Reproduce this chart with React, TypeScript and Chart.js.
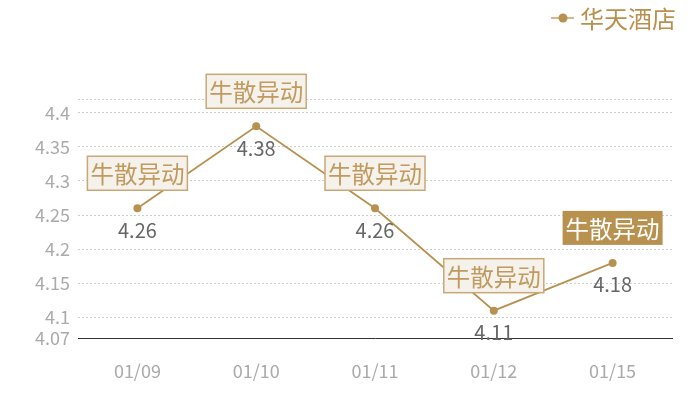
import React, { useEffect, useRef } from 'react';
import { Chart, registerables } from 'chart.js';

Chart.register(...registerables);

const dates = ['01/09', '01/10', '01/11', '01/12', '01/15'];
const prices = [4.26, 4.38, 4.26, 4.11, 4.18];
const tagTexts = ['牛散异动', '牛散异动', '牛散异动', '牛散异动', '牛散异动'];
const tagHot = [false, false, false, false, true];
const yTicks = [4.07, 4.1, 4.15, 4.2, 4.25, 4.3, 4.35, 4.4, 4.42];
const hiddenTicks = [4.42];
const seriesName = '华天酒店';

const GOLD = '#b8914f';
const FONT = '"Noto Sans CJK SC", "Noto Sans", sans-serif';

// value under each point + tag box above it
const labelPlugin = {
  id: 'pointLabels',
  afterDatasetsDraw(chart: any) {
    const ctx = chart.ctx;
    const meta = chart.getDatasetMeta(0);
    ctx.save();
    meta.data.forEach((pt: any, i: number) => {
      const x = pt.x;
      const y = pt.y;
      ctx.font = '20px ' + FONT;
      ctx.fillStyle = '#666';
      ctx.textAlign = 'center';
      ctx.textBaseline = 'middle';
      ctx.fillText(String(prices[i]), x, y + 22);

      const text = tagTexts[i];
      if (!text) return;
      ctx.font = '23.5px ' + FONT;
      const w = ctx.measureText(text).width + 6;
      const h = 34;
      const cy = y - 35;
      const left = x - w / 2;
      const top = cy - h / 2;
      if (tagHot[i]) {
        ctx.fillStyle = GOLD;
        ctx.fillRect(left, top, w, h);
        ctx.fillStyle = '#fff';
      } else {
        ctx.fillStyle = '#f5f1eb';
        ctx.fillRect(left, top, w, h);
        ctx.strokeStyle = '#c9a877';
        ctx.lineWidth = 1.5;
        ctx.strokeRect(left, top, w, h);
        ctx.fillStyle = '#c09a5e';
      }
      ctx.fillText(text, x, cy + 1);
    });
    ctx.restore();
  },
};

const legendPlugin = {
  id: 'cornerLegend',
  afterDraw(chart: any) {
    const ctx = chart.ctx;
    ctx.save();
    ctx.font = '24px ' + FONT;
    const tw = ctx.measureText(seriesName).width;
    const right = chart.width - 24;
    const tx = right - tw;
    const cy = 18;
    ctx.strokeStyle = '#d4b98c';
    ctx.lineWidth = 2;
    ctx.beginPath();
    ctx.moveTo(tx - 29, cy);
    ctx.lineTo(tx - 6, cy);
    ctx.stroke();
    ctx.fillStyle = GOLD;
    ctx.beginPath();
    ctx.arc(tx - 17, cy, 4.5, 0, Math.PI * 2);
    ctx.fill();
    ctx.textAlign = 'left';
    ctx.textBaseline = 'middle';
    ctx.fillText(seriesName, tx, cy + 1);
    ctx.restore();
  },
};

const App: React.FC = () => {
  const canvasRef = useRef<HTMLCanvasElement | null>(null);
  const chartRef = useRef<Chart | null>(null);

  useEffect(() => {
    if (!canvasRef.current) return;
    const ctx = canvasRef.current.getContext('2d');
    if (!ctx) return;
    if (chartRef.current) chartRef.current.destroy();

    chartRef.current = new Chart(ctx, {
      type: 'line',
      data: {
        labels: dates,
        datasets: [
          {
            label: seriesName,
            data: prices,
            borderColor: GOLD,
            backgroundColor: GOLD,
            borderWidth: 1.8,
            pointRadius: 4,
            pointBackgroundColor: GOLD,
            pointBorderWidth: 0,
            tension: 0,
            clip: false as any,
          },
        ],
      },
      options: {
        animation: false,
        responsive: true,
        maintainAspectRatio: false,
        layout: { padding: { top: 99, right: 28, left: 0, bottom: 0 } },
        plugins: {
          legend: { display: false },
          tooltip: { enabled: false },
        },
        scales: {
          x: {
            offset: true,
            grid: { display: false, drawTicks: false },
            border: { display: true, color: '#333', width: 1 },
            ticks: {
              color: '#aaa',
              font: { size: 18, family: FONT },
              padding: 22,
            },
            afterFit: (s: any) => {
              s.height = 62;
            },
          },
          y: {
            min: 4.07,
            max: 4.42,
            afterBuildTicks: (s: any) => {
              s.ticks = yTicks.map((v) => ({ value: v }));
            },
            afterFit: (s: any) => {
              s.width = 78;
            },
            grid: {
              drawTicks: false,
              color: (c: any) => (c.tick && c.tick.value === 4.07 ? 'rgba(0,0,0,0)' : '#ccc'),
              lineWidth: 1,
            },
            border: { display: false, dash: [2, 2] },
            ticks: {
              color: '#aaa',
              font: { size: 18, family: FONT },
              padding: 8,
              callback: (v: any) => (hiddenTicks.includes(Number(v)) ? '' : String(Number(v))),
            },
          },
        },
      },
      plugins: [labelPlugin, legendPlugin],
    });

    return () => {
      if (chartRef.current) {
        chartRef.current.destroy();
        chartRef.current = null;
      }
    };
  }, []);

  return (
    <div style={{ position: 'absolute', left: 0, top: 0, width: 700, height: 400 }}>
      <canvas ref={canvasRef}></canvas>
    </div>
  );
};

export default App;
